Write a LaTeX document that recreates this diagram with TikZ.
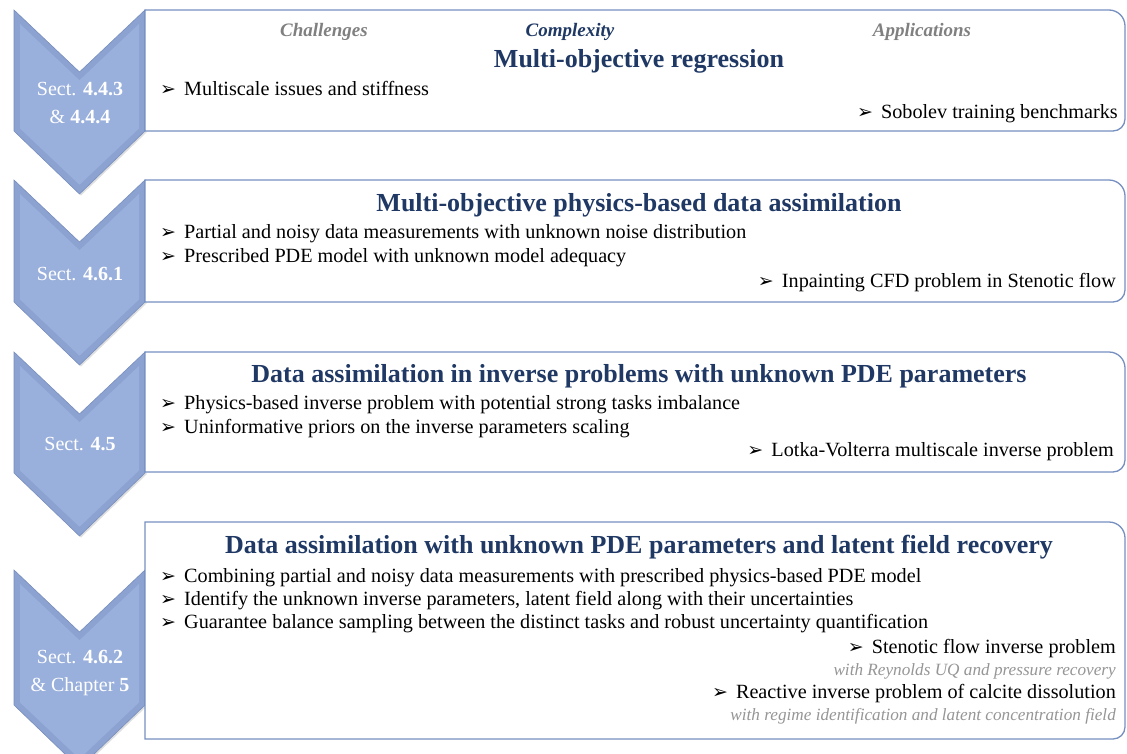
\documentclass[tikz,border=0pt]{standalone}
\usepackage{fontspec}
\setmainfont{Liberation Serif}
\newfontfamily\symfont{DejaVu Sans}
\usetikzlibrary{shadows}
\definecolor{navy}{RGB}{31,56,100}
\definecolor{hdrgray}{RGB}{128,128,128}
\definecolor{subgray}{RGB}{150,150,150}
\definecolor{boxline}{RGB}{118,143,193}
\definecolor{chevfill}{RGB}{140,163,210}
\definecolor{chevin}{RGB}{154,176,220}
\definecolor{chevedge}{RGB}{120,142,190}
\newcommand\mychev[2]{%
  \fill[chevfill,drop shadow={opacity=0.25,shadow xshift=1.5pt,shadow yshift=-1.5pt}]
    (14,-#1) -- (79.5,-#1-62) -- (145,-#1) -- (145,-#1-#2) -- (79.5,-#1-#2-63) -- (14,-#1-#2) -- cycle;
  \fill[chevin] (20,-#1-14) -- (79.5,-#1-70.3) -- (139,-#1-14) -- (139,-#1-#2+2.6) -- (79.5,-#1-#2-53.7) -- (20,-#1-#2+2.6) -- cycle;
  \draw[chevedge,line width=0.6pt] (14,-#1) -- (79.5,-#1-62) -- (145,-#1) -- (145,-#1-#2) -- (79.5,-#1-#2-63) -- (14,-#1-#2) -- cycle;
}
\newcommand\mybox[2]{%
  \draw[boxline,line width=1.3pt,fill=white] (145,-#1) -- (1109,-#1) arc[start angle=90,end angle=0,radius=16] -- (1125,-#2+12) arc[start angle=0,end angle=-90,radius=12] -- (145,-#2) -- cycle;
}
\newcommand\arr{\makebox[24pt][l]{\raisebox{0pt}{\symfont\fontsize{19}{19}\selectfont ➢}}}
\tikzset{
  body/.style={inner sep=0pt,font=\fontsize{20.2}{23}\selectfont,text=black},
  lbul/.style={body,anchor=base west},
  rbul/.style={body,anchor=base east},
  sub/.style={inner sep=0pt,anchor=base east,font=\fontsize{17.2}{20}\selectfont\itshape,text=subgray},
  ttl/.style={inner sep=0pt,anchor=base,font=\fontsize{26}{30}\selectfont\bfseries,text=navy},
  hdr/.style={inner sep=0pt,anchor=base,font=\fontsize{19}{22}\selectfont\bfseries\itshape},
  sect/.style={inner sep=0pt,anchor=base,font=\fontsize{20}{24}\selectfont,text=white},
}
\begin{document}
\begin{tikzpicture}[x=1pt,y=1pt]
\useasboundingbox (0,0) rectangle (1127,-753);
\clip (0,0) rectangle (1127,-753);
% chevrons
\mychev{10}{121}
\mychev{180}{122}
\mychev{352}{121}
\mychev{570}{135}
% boxes
\mybox{10}{131}
\mybox{180}{302}
\mybox{352}{472}
\mybox{522}{739}
% chevron labels
\node[sect] (s1a) at (80,-95) {Sect. \textbf{4.4.3}};
\node[sect] (s1b) at (80,-123) {\& \textbf{4.4.4}};
\node[sect] (s2) at (80,-280) {Sect. \textbf{4.6.1}};
\node[sect] (s3) at (80,-450) {Sect. \textbf{4.5}};
\node[sect] (s4a) at (80,-663) {Sect. \textbf{4.6.2}};
\node[sect] (s4b) at (80,-691) {\& Chapter \textbf{5}};
% box 1
\node[hdr,text=hdrgray] (h1) at (324,-36) {Challenges};
\node[hdr,text=navy] (h2) at (570,-36) {Complexity};
\node[hdr,text=hdrgray] (h3) at (922,-36) {Applications};
\node[ttl] (t1) at (639,-67) {Multi-objective regression};
\node[lbul] (b11) at (160,-95) {\arr Multiscale issues and stiffness};
\node[rbul] (r11) at (1118,-118) {\arr Sobolev training benchmarks};
% box 2
\node[ttl] (t2) at (639,-211) {Multi-objective physics-based data assimilation};
\node[lbul] (b21) at (160,-238) {\arr Partial and noisy data measurements with unknown noise distribution};
\node[lbul] (b22) at (160,-262) {\arr Prescribed PDE model with unknown model adequacy};
\node[rbul] (r21) at (1116,-287) {\arr Inpainting CFD problem in Stenotic flow};
% box 3
\node[ttl] (t3) at (639,-382) {Data assimilation in inverse problems with unknown PDE parameters};
\node[lbul] (b31) at (160,-409) {\arr Physics-based inverse problem with potential strong tasks imbalance};
\node[lbul] (b32) at (160,-433) {\arr Uninformative priors on the inverse parameters scaling};
\node[rbul] (r31) at (1114,-456) {\arr Lotka-Volterra multiscale inverse problem};
% box 4
\node[ttl] (t4) at (639,-553) {Data assimilation with unknown PDE parameters and latent field recovery};
\node[lbul] (b41) at (160,-582) {\arr Combining partial and noisy data measurements with prescribed physics-based PDE model};
\node[lbul] (b42) at (160,-605) {\arr Identify the unknown inverse parameters, latent field along with their uncertainties};
\node[lbul] (b43) at (160,-628) {\arr Guarantee balance sampling between the distinct tasks and robust uncertainty quantification};
\node[rbul] (r41) at (1116,-653) {\arr Stenotic flow inverse problem};
\node[sub] (w41) at (1116,-675) {with Reynolds UQ and pressure recovery};
\node[rbul] (r42) at (1116,-698) {\arr Reactive inverse problem of calcite dissolution};
\node[sub] (w42) at (1116,-720) {with regime identification and latent concentration field};
\end{tikzpicture}
\end{document}
